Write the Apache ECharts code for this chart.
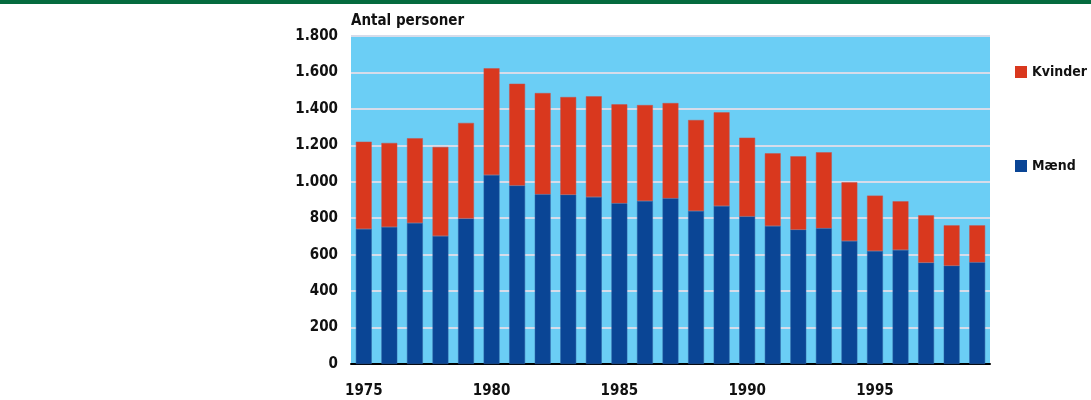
<!DOCTYPE html>
<html><head><meta charset="utf-8">
<script src="https://cdn.jsdelivr.net/npm/echarts@6/dist/echarts.min.js"></script>
<style>html,body{margin:0;padding:0;background:#fff}#topbar{position:absolute;left:0;top:0;width:1091px;height:4px;background:#046B3E}#c{width:1091px;height:400px}</style>
</head><body><div id="topbar"></div><div id="c"></div>
<script>
var years = ['1975','1976','1977','1978','1979','1980','1981','1982','1983','1984','1985','1986','1987','1988','1989','1990','1991','1992','1993','1994','1995','1996','1997','1998','1999'];
var maend = [741,752,774,702,799,1037,979,931,929,916,882,895,909,840,867,810,757,737,745,675,620,626,556,539,558];
var kvinder = [479,461,465,489,524,586,559,556,536,553,543,526,523,499,514,432,399,403,417,322,304,267,260,222,203];
var yTicks = [0,200,400,600,800,1000,1200,1400,1600,1800];
var FONT = '"DejaVu Sans Condensed",Roboto,sans-serif';
var chart = echarts.init(document.getElementById('c'));
chart.setOption({
  animation:false,
  textStyle:{fontFamily:FONT},
  grid:{left:351,right:101,top:36,bottom:36,show:true,backgroundColor:'#6BCEF5',borderWidth:0},
  title:{text:'Antal personer',left:346,top:9,textStyle:{fontFamily:FONT,fontSize:15,fontWeight:'bold',color:'#111'}},
  legend:{orient:'vertical',left:1015,top:65,padding:0,itemGap:80,itemWidth:12,itemHeight:12,icon:'rect',
    itemStyle:{borderWidth:0},
    textStyle:{fontFamily:FONT,fontSize:14,fontWeight:'bold',color:'#111'},
    data:['Kvinder','Mænd']},
  xAxis:{type:'category',data:years,
    axisLine:{show:true,lineStyle:{color:'#000',width:2}},
    axisTick:{show:false},
    axisLabel:{interval:4,margin:20,fontFamily:FONT,fontSize:15,fontWeight:'bold',color:'#111'}},
  yAxis:{type:'value',min:0,max:1800,interval:200,
    axisLine:{show:false},axisTick:{show:false},
    splitLine:{show:true,lineStyle:{color:'#D6DCEA',width:2}},
    axisLabel:{margin:13,fontFamily:FONT,fontSize:15,fontWeight:'bold',color:'#111',
      formatter:function(v){return v>=1000?String(v).replace(/(\d)(\d{3})$/,'$1.$2'):String(v);}}},
  series:[
    {name:'Mænd',type:'bar',stack:'t',data:maend,barWidth:'62%',itemStyle:{color:'#0A4595',borderColor:'#2F5EA0',borderWidth:0.5}},
    {name:'Kvinder',type:'bar',stack:'t',data:kvinder,barWidth:'62%',itemStyle:{color:'#D9381E',borderColor:'#C9504A',borderWidth:0.5}}
  ]
});
</script></body></html>
